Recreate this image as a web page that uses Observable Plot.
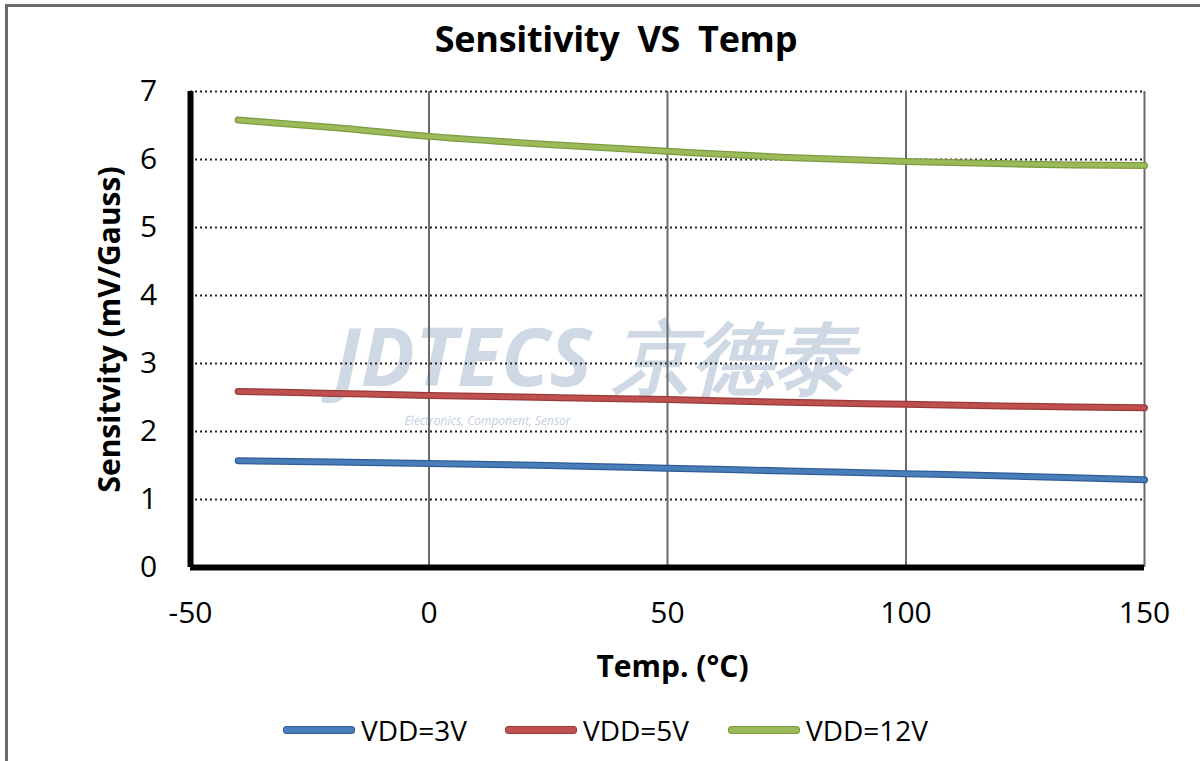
<!DOCTYPE html>
<html>
<head>
<meta charset="utf-8">
<script src="https://cdn.jsdelivr.net/npm/d3@7"></script>
<script src="https://cdn.jsdelivr.net/npm/@observablehq/plot@0.6"></script>
<style>
  html, body { margin: 0; padding: 0; background: #fff; }
  #frame {
    position: relative; width: 1200px; height: 761px; overflow: hidden;
    font-family: "Open Sans", "Noto Sans", sans-serif; color: #000;
  }
  #edge-top { position: absolute; left: 5px; top: 4px; width: 1195px; height: 3px; background: #6a6a6a; }
  #edge-left { position: absolute; left: 5px; top: 4px; width: 3px; height: 757px; background: #6a6a6a; }
  #title {
    position: absolute; left: 16px; top: 14px; width: 1200px; text-align: center;
    font-weight: 700; font-size: 36px; letter-spacing: -0.3px; word-spacing: 9px;
  }
  #chart { position: absolute; left: 0; top: 70px; }
  #legend {
    position: absolute; left: 0; top: 710px; width: 1200px; height: 40px;
  }
  .item { position: absolute; top: 0; display: flex; align-items: center; height: 40px; font-size: 28px; }
  .swatch { width: 70px; height: 6px; border-radius: 3px; margin-right: 6px; }
</style>
</head>
<body>
<div id="frame">
  <div id="edge-top"></div>
  <div id="edge-left"></div>
  <div id="title">Sensitivity VS Temp</div>
  <div id="chart"></div>
  <div id="legend"></div>
</div>
<script>
// Temperature sweep (°C) and sensitivity (mV/Gauss) for each supply voltage
const temps = [-40, -20, 0, 25, 50, 75, 100, 125, 150];
const vdd3  = [1.57, 1.55, 1.53, 1.50, 1.46, 1.42, 1.38, 1.34, 1.29];
const vdd5  = [2.59, 2.56, 2.53, 2.50, 2.47, 2.43, 2.40, 2.37, 2.35];
const vdd12 = [6.58, 6.47, 6.34, 6.22, 6.12, 6.03, 5.97, 5.93, 5.91];

const seriesNames  = ["VDD=3V", "VDD=5V", "VDD=12V"];
const seriesColors = ["#4a7ebb", "#c0504d", "#9bbb59"];
const seriesEdges  = ["#2f5d93", "#963b39", "#7d9a44"];

const xTicks = [-50, 0, 50, 100, 150];
const yTicks = [0, 1, 2, 3, 4, 5, 6, 7];
const xGrid  = [0, 50, 100, 150];
const yGrid  = [1, 2, 3, 4, 5, 6, 7];

const rows = [];
[vdd3, vdd5, vdd12].forEach((vals, i) => {
  temps.forEach((t, j) => rows.push({series: seriesNames[i], temp: t, sens: vals[j]}));
});

const font = "'Open Sans', 'Noto Sans', sans-serif";
const plain = d => String(d);

const chart = Plot.plot({
  width: 1200,
  height: 630,
  marginLeft: 190,
  marginRight: 56,
  marginTop: 21,
  marginBottom: 133,
  style: {fontFamily: font, background: "transparent", overflow: "visible"},
  x: {domain: [-50, 150], ticks: xTicks, label: null},
  y: {domain: [0, 7], ticks: yTicks, label: null},
  color: {domain: seriesNames, range: seriesColors},
  marks: [
    // watermark
    Plot.text(["JDTECS 京德泰"], {
      frameAnchor: "middle", dx: -74, dy: 31,
      fontSize: 80, fontWeight: 700, fontStyle: "italic", fill: "#bfcbdc", fillOpacity: 0.75
    }),
    Plot.text(["Electronics, Component, Sensor"], {
      frameAnchor: "middle", dx: -180, dy: 92,
      fontSize: 12, fontStyle: "italic", fill: "#b9c7da", fillOpacity: 0.9
    }),
    // dotted horizontal gridlines
    Plot.ruleY(yGrid, {stroke: "#222", strokeWidth: 2, strokeDasharray: "2,3"}),
    // solid vertical gridlines
    Plot.ruleX(xGrid, {stroke: "#6b6b6b", strokeWidth: 2}),
    // series lines with darker edge
    Plot.line(rows, {x: "temp", y: "sens", z: "series",
      stroke: d => seriesEdges[seriesNames.indexOf(d.series)],
      strokeWidth: 7, curve: "catmull-rom", strokeLinecap: "round"}),
    Plot.line(rows, {x: "temp", y: "sens", z: "series", stroke: "series",
      strokeWidth: 4.5, curve: "catmull-rom", strokeLinecap: "round"}),
    // tick labels
    Plot.axisX({ticks: xTicks, tickSize: 0, tickPadding: 34, fontSize: 30, label: null, tickFormat: plain}),
    Plot.axisY({ticks: yTicks, tickSize: 0, tickPadding: 34, fontSize: 30, label: null, tickFormat: plain, textAnchor: "middle", dx: -8}),
    // heavy axis lines
    Plot.ruleY([0], {stroke: "#000", strokeWidth: 6}),
    Plot.ruleX([-50], {stroke: "#000", strokeWidth: 6}),
    // axis titles
    Plot.text(["Temp. (°C)"], {frameAnchor: "bottom", dy: 109, dx: 5, fontSize: 30, fontWeight: 700}),
    Plot.text(["Sensitvity (mV/Gauss)"], {frameAnchor: "left", textAnchor: "middle", dx: -80, dy: 0, rotate: -90, fontSize: 30, fontWeight: 700})
  ]
});
document.getElementById("chart").appendChild(chart);

// legend below the plot
const legend = document.getElementById("legend");
const lefts = [283, 505, 728];
seriesNames.forEach((name, i) => {
  const item = document.createElement("div");
  item.className = "item";
  item.style.left = lefts[i] + "px";
  const sw = document.createElement("div");
  sw.className = "swatch";
  sw.style.background = seriesColors[i];
  sw.style.border = "1px solid " + seriesEdges[i];
  const label = document.createElement("span");
  label.textContent = name;
  item.appendChild(sw);
  item.appendChild(label);
  legend.appendChild(item);
});
</script>
</body>
</html>
